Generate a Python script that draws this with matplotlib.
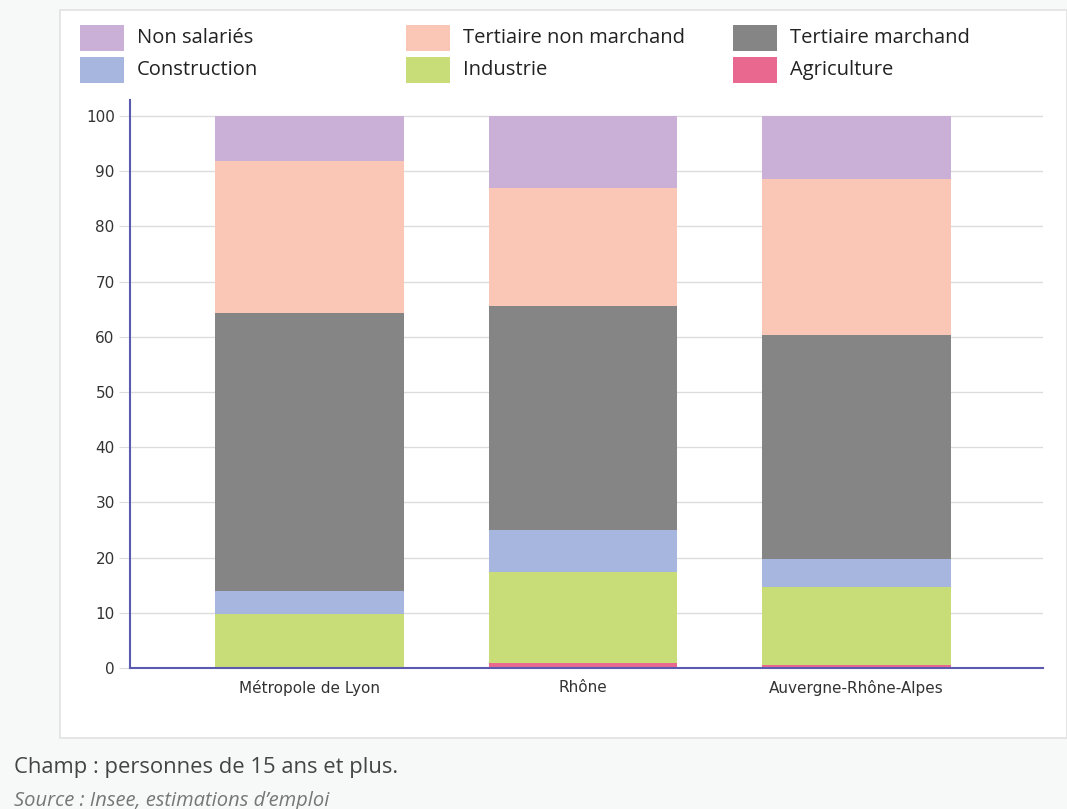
import matplotlib.pyplot as plt
import matplotlib.patches as mpatches
import numpy as np

# data (percent of employment)
regions = ["Métropole de Lyon", "Rhône", "Auvergne-Rhône-Alpes"]
agriculture = [0.1, 0.9, 0.5]
industrie = [9.7, 16.5, 14.2]
construction = [4.1, 7.6, 5.0]
tertiaire_marchand = [50.4, 40.6, 40.6]
tertiaire_non_marchand = [27.5, 21.4, 28.3]
non_salaries = [8.2, 13.0, 11.4]

series = [
    ("Agriculture", agriculture, "#e8688f"),
    ("Industrie", industrie, "#c8dc78"),
    ("Construction", construction, "#a6b6df"),
    ("Tertiaire marchand", tertiaire_marchand, "#858585"),
    ("Tertiaire non marchand", tertiaire_non_marchand, "#fac6b6"),
    ("Non salariés", non_salaries, "#cab0d6"),
]
legend_order = ["Non salariés", "Tertiaire non marchand", "Tertiaire marchand",
                "Construction", "Industrie", "Agriculture"]

W, H = 1067, 809
fig = plt.figure(figsize=(W / 100, H / 100), dpi=100)
fig.patch.set_facecolor("#f7f8f8")

# white panel behind the chart
panel = mpatches.Rectangle((60 / W, 1 - 738 / H), (W - 60) / W, (738 - 10) / H,
                           transform=fig.transFigure, facecolor="white",
                           edgecolor="#e2e2e2", linewidth=1.2, zorder=-1)
fig.patches.append(panel)

ax = fig.add_axes([130 / W, 1 - 668 / H, (1043 - 130) / W, (668 - 100) / H])
ax.set_facecolor("white")

x = np.arange(len(regions))
bottom = np.zeros(len(regions))
for name, vals, col in series:
    ax.bar(x, vals, bottom=bottom, width=0.69, color=col, zorder=2, linewidth=0)
    bottom += np.array(vals)

# plot area is wider on the right than the categories need
ax.set_xlim(-0.656, 2.682)
ax.set_ylim(0, 102.9)
ax.set_yticks(np.arange(0, 101, 10))
ax.yaxis.grid(True, color="#dcdcdc", linewidth=1, zorder=0)
ax.tick_params(axis="y", length=8, color="#dcdcdc", labelsize=11, labelcolor="#333333", pad=3)
ax.tick_params(axis="x", length=0, labelsize=11, labelcolor="#333333", pad=9)
ax.set_xticks(x)
ax.set_xticklabels(regions)

for s in ["top", "right"]:
    ax.spines[s].set_visible(False)
ax.spines["left"].set_color("#5a5ab0")
ax.spines["bottom"].set_color("#5a5ab0")
ax.spines["left"].set_linewidth(1.5)
ax.spines["bottom"].set_linewidth(1.5)

# legend, three columns by two rows
lookup = {n: c for n, v, c in series}
cols_x = [80, 406, 733]
rows_y = [38, 70]
for i, name in enumerate(legend_order):
    cx = cols_x[i % 3]
    cy = rows_y[i // 3]
    fig.patches.append(mpatches.Rectangle((cx / W, 1 - (cy + 13) / H), 44 / W, 26 / H,
                                          transform=fig.transFigure,
                                          facecolor=lookup[name], linewidth=0))
    fig.text((cx + 57) / W, 1 - cy / H, name, fontsize=14.5, family="Open Sans",
             color="#222222", va="center", ha="left")

fig.text(14 / W, 1 - 768 / H, "Champ : personnes de 15 ans et plus.", fontsize=15.8,
         family="Open Sans", color="#444444", va="center")
fig.text(14 / W, 1 - 801 / H, "Source : Insee, estimations d\u2019emploi", fontsize=14.5,
         family="Open Sans", style="italic", color="#777777", va="center")

fig.savefig("out.png", dpi=100, facecolor=fig.get_facecolor())
